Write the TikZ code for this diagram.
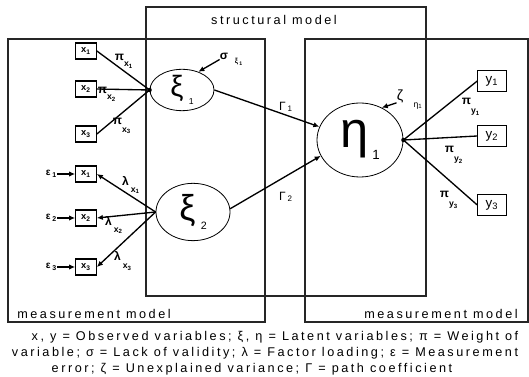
\documentclass[tikz,border=0pt]{standalone}
\usepackage{fontspec}
\setmainfont{Liberation Sans}
\newfontfamily\spaced[LetterSpace=20]{Liberation Sans}
\usetikzlibrary{arrows.meta,shapes.geometric}
\tikzset{
  frame/.style={line width=1pt,draw=black!85},
  obs/.style={draw,line width=0.8pt,inner sep=0pt,minimum width=15.5pt,minimum height=12pt,font=\fontsize{7}{8}\selectfont\bfseries},
  ind/.style={draw,line width=0.6pt,inner sep=0pt,minimum width=21.5pt,minimum height=16pt,font=\fontsize{10}{11}\selectfont},
  latent/.style={draw,ellipse,line width=0.6pt,inner sep=0pt},
  path/.style={line width=1pt},
  arr/.style={line width=1pt,-{Latex[length=4.5pt,width=4pt]}},
  coef/.style={inner sep=0pt,font=\fontsize{9}{10}\selectfont\bfseries},
  caption/.style={inner sep=0pt,font=\fontsize{9.5}{11}\selectfont\spaced}
}
\newcommand{\low}[2]{\raisebox{#1}{\fontsize{6.5}{7}\selectfont #2}}
\begin{document}
\begin{tikzpicture}[x=0.75pt,y=-0.75pt]
\useasboundingbox (0,0) rectangle (529,377);
% frames
\draw[frame] (8,39) rectangle (265,322);
\draw[frame] (146,7) rectangle (426,296);
\draw[frame] (305,39) rectangle (528,322);
\node[caption] (struct) at (274,20) {structural model};
\node[caption,anchor=west] (measl) at (17,314) {measurement model};
\node[caption,anchor=east] (measr) at (518,314) {measurement model};

% latent variables
\node[latent,minimum width=48pt,minimum height=30.5pt] (xi1) at (182,90)
  {\fontsize{22}{22}\selectfont ξ\hspace{4pt}\low{-6pt}{1}};
\node[latent,minimum width=55.5pt,minimum height=43pt] (xi2) at (193,212)
  {\fontsize{27}{27}\selectfont ξ\hspace{4pt}\low{-7pt}{\fontsize{8}{8}\selectfont 2}};
\node[latent,minimum width=64.5pt,minimum height=55.5pt] (eta) at (360,140)
  {\fontsize{38}{38}\selectfont η\hspace{3pt}\low{-9pt}{\fontsize{10}{10}\selectfont 1}};

% observed variables
\foreach \n/\y/\i in {xa/51/1,xb/89/2,xc/134/3,xd/174/1,xe/218/2,xf/267/3}
  \node[obs] (\n) at (86,\y) {x\textsubscript{\i}};
\foreach \n/\y/\i in {ya/81/1,yb/136/2,yc/205/3}
  \node[ind] (\n) at (492,\y) {y\textsubscript{\i}};

% formative block of xi1
\foreach \n in {xa,xb,xc}
  \draw[path] (\n.east) -- (xi1.west);
\fill (xi1.west) circle (2.2);
\node[coef] (pa) at (124,61) {π\low{-5pt}{x\textsubscript{1}}};
\node[coef] (pb) at (107,94) {π\low{-5pt}{x\textsubscript{2}}};
\node[coef] (pc) at (122,126) {π\low{-6pt}{x\textsubscript{3}}};
\node[coef] (sig) at (224,56) {σ};
\node[inner sep=0pt,font=\fontsize{5.5}{6}\selectfont\bfseries] (sigsub) at (239,62) {ξ\,\textsubscript{1}};
\draw[arr] (sig.south west) -- (xi1.48);

% reflective block of xi2
\foreach \n in {xd,xe,xf}
  \draw[arr] (xi2.west) -- (\n.east);
\node[coef] (la) at (131,185) {λ\,\low{-5pt}{x\textsubscript{1}}};
\node[coef] (lb) at (114,225) {λ\,\low{-5pt}{x\textsubscript{2}}};
\node[coef] (lc) at (123,261) {λ\,\low{-6pt}{x\textsubscript{3}}};
\foreach \e/\n/\i in {epsa/xd/1,epsb/xe/2,epsc/xf/3}{
  \node[coef,font=\fontsize{7.5}{8}\selectfont\bfseries,anchor=east] (\e) at ([xshift=-13.5pt]\n.west) {ε\,\textsubscript{\i}};
  \draw[arr] (\e.east) -- (\n.west);
}

% structural paths
\draw[arr] (xi1.east) -- (eta.162);
\draw[arr] (xi2.5) -- (eta.202);
\node[inner sep=0pt,font=\fontsize{9}{10}\selectfont] (ga) at (286,107) {Γ\,\textsubscript{1}};
\node[inner sep=0pt,font=\fontsize{9}{10}\selectfont] (gb) at (286,197) {Γ\,\textsubscript{2}};
\node[inner sep=0pt,font=\fontsize{11}{12}\selectfont] (zeta) at (400,96) {ζ};
\node[inner sep=0pt,font=\fontsize{6.5}{7}\selectfont] (zetasub) at (418,106) {η\textsubscript{1}};
\draw[arr] (zeta.south west) -- (eta.56);

% formative block of eta
\foreach \n in {ya,yb,yc}
  \draw[path] (eta.east) -- (\n.west);
\fill (eta.east) circle (2.2);
\node[coef] (ua) at (471,107) {π\low{-7pt}{y\textsubscript{1}}};
\node[coef] (ub) at (454,155) {π\low{-7pt}{y\textsubscript{2}}};
\node[coef] (uc) at (449,200) {π\low{-7pt}{y\textsubscript{3}}};

% legend
\node[caption] (cap1) at (275,337) {x, y = Observed variables; ξ, η = Latent variables; π = Weight of};
\node[caption] (cap2) at (265,353) {variable; σ = Lack of validity; λ = Factor loading; ε = Measurement};
\node[caption] (cap3) at (252,369) {error; ζ = Unexplained variance; Γ = path coefficient};
\end{tikzpicture}
\end{document}
